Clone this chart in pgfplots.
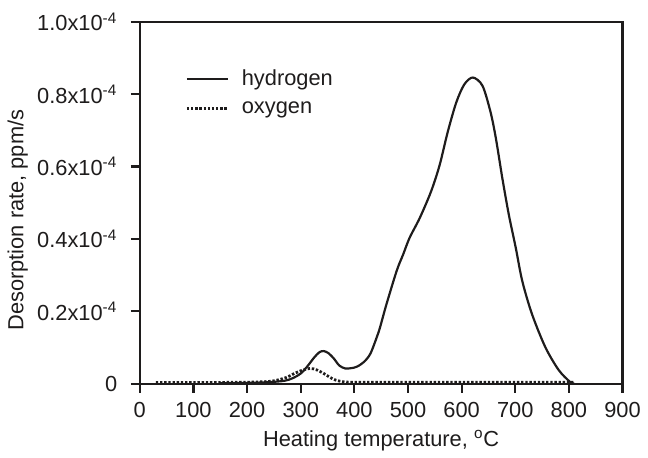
\documentclass[border=0pt]{standalone}
\usepackage{fontspec}
\setmainfont{Liberation Sans}
\usepackage{pgfplots}
\pgfplotsset{compat=1.18}
\definecolor{ink}{RGB}{30,28,28}
\begin{document}
\fontsize{11}{13}\selectfont
\begin{tikzpicture}
\begin{axis}[
  scale only axis, width=243.5pt, height=182.5pt,
  xmin=0, xmax=900, ymin=0, ymax=1.0,
  axis line style={ink, line width=1.1pt},
  xtick={0,100,200,300,400,500,600,700,800,900},
  ytick={0,0.2,0.4,0.6,0.8,1.0},
  yticklabels={0,{0.2x10\textsuperscript{-4}},{0.4x10\textsuperscript{-4}},{0.6x10\textsuperscript{-4}},{0.8x10\textsuperscript{-4}},{1.0x10\textsuperscript{-4}}},
  tick align=outside, tick pos=left,
  major tick length=4.5pt,
  tick style={ink, line width=1.1pt},
  /pgf/number format/assume math mode=true,
  ticklabel style={font=\fontsize{11}{13}\selectfont, text=ink},
  yticklabel style={xshift=-3pt},
  xticklabel style={yshift=-1pt},
  xlabel={Heating temperature, \textsuperscript{o}C},
  ylabel={Desorption rate, ppm/s},
  label style={font=\fontsize{11}{13}\selectfont, text=ink},
  xlabel style={at={(axis description cs:0.5,-0.1726)}, anchor=base},
  ylabel style={at={(axis description cs:-0.2526,0.452)}, anchor=center},
  legend style={draw=none, fill=none, at={(axis description cs:0.094,0.875)}, anchor=north west,
    font=\fontsize{11}{13}\selectfont, text=ink, row sep=4.5pt, inner sep=0pt,
    nodes={inner xsep=6.5pt, inner ysep=1pt}},
  legend cell align=left,
  legend image code/.code={\draw[#1] (0pt,0pt) -- (20.5pt,0pt);},
]
\addplot[ink, line width=1.1pt, smooth] coordinates {
(150,0.001) (200,0.002) (240,0.004) (270,0.008) (285,0.015) (300,0.028)
(312,0.047) (325,0.072) (335,0.087) (343,0.090) (352,0.084) (362,0.069)
(372,0.050) (383,0.042) (395,0.043) (405,0.047) (418,0.060) (430,0.083)
(442,0.129) (448,0.156) (460,0.22) (479,0.312) (491,0.357) (503,0.403)
(522,0.458) (543,0.531) (559,0.604) (574,0.695) (590,0.777) (605,0.827)
(621,0.846) (639,0.823) (654,0.750) (664,0.677) (676,0.567) (688,0.467)
(701,0.375) (713,0.284) (731,0.193) (756,0.101) (781,0.0375) (802,0.005) (810,0.0)
};
\addlegendentry{hydrogen}
\addplot[ink, line width=1.4pt, dash pattern=on 1.2pt off 0.9pt, smooth] coordinates {
(30,0.003) (100,0.003) (200,0.004) (240,0.006) (257,0.010) (275,0.018)
(288,0.028) (303,0.037) (318,0.042) (330,0.038) (343,0.028) (355,0.017)
(365,0.010) (380,0.005) (400,0.004) (500,0.004) (600,0.004) (700,0.004) (810,0.004)
};
\addlegendentry{oxygen}
\end{axis}
\path (-70.5pt,-33.5pt) rectangle (253.5pt,193.5pt);
\end{tikzpicture}
\end{document}
